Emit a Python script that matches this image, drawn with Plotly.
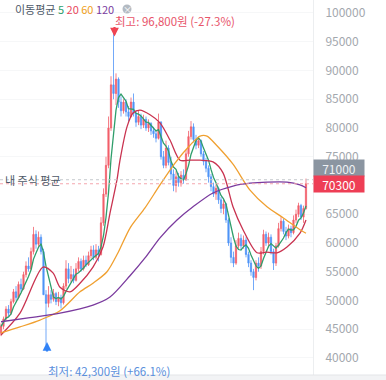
import plotly.graph_objects as go
import pandas as pd

# ---- candle data (won) ----
opens = [44300,45500,46800,48500,47800,49800,51500,50500,52800,52000,
         54500,56000,55500,58500,61500,59800,61000,58500,51000,49500,
         51000,50200,51200,49800,50500,49600,52500,55500,53800,54500,
         53500,55500,56800,55500,57000,56200,57800,58800,57500,58800,
         58000,63500,68500,73500,80000,87500,86000,88500,84500,83000,
         84500,82800,82000,84500,82500,81000,82000,80500,81500,80000,
         80800,79500,79000,78200,81000,75000,73500,76500,74000,72000,
         70000,71500,70500,71800,71000,75500,78500,80200,78000,77000,
         77800,75500,74200,73000,71500,69800,68500,69500,67500,66000,
         66800,64000,60000,57500,56500,59500,60800,59500,60500,58000,
         56500,55000,54000,56500,56000,58500,61500,60000,61000,58500,
         56500,59500,62500,63800,62000,61200,62500,61800,64000,65000,
         66500,64500,66000]
highs = [46000,47200,49000,49200,50300,52000,52500,53300,53800,55000,
         56800,57500,59200,62800,62200,62000,61500,59000,51800,52500,
         51800,52000,51500,51500,51000,53000,57000,56500,56000,55500,
         56500,57500,57300,57800,57800,58500,59500,59600,59800,59500,
         64500,69500,75000,82000,89000,96800,89500,88800,85500,85000,
         85000,83800,85300,86000,83000,83000,82500,82300,82000,81500,
         81000,80200,79500,82500,81200,76000,77800,77000,75000,72800,
         72500,72200,72500,72800,76200,79500,81200,80800,78800,78500,
         78000,76000,74800,73500,72000,70500,70200,69800,68000,67500,
         67000,64300,61000,58500,60500,61800,61500,61300,61000,58500,
         57000,55500,57000,57500,59300,62300,62000,61800,61500,59000,
         60000,63500,64500,64200,62800,63200,63000,64800,65800,67000,
         66800,66500,71200]
lows = [43800,45000,46500,47300,47500,49500,50000,50200,51500,51800,
        54000,55000,55300,58000,59000,59200,58000,51000,42300,48800,
        49500,49800,49200,49000,48600,49300,52000,53000,53200,53000,
        53300,55000,55000,55200,55800,56000,57300,57000,57200,56800,
        57800,63000,68000,73000,79500,85000,84000,83500,82000,82500,
        82000,81200,81800,82000,80200,80500,79800,80000,79500,79300,
        78800,78300,77500,78000,74500,73000,73000,73500,71000,69000,
        68800,69800,69800,70300,70800,75000,78000,77500,76300,76500,
        75000,73500,72300,70500,69000,68000,67500,66800,65200,65000,
        63500,59500,56500,55800,56200,59000,58800,59000,57500,55800,
        54300,51800,53500,55000,55500,58000,59500,59200,58000,55300,
        56000,59200,62000,61500,60500,60800,61000,61500,63500,64500,
        64000,63500,65800]
closes = [45500,46800,48500,47800,49800,51500,50500,52800,52000,54500,
          56000,55500,58500,61500,59800,61000,58500,51000,49500,51000,
          50200,51200,49800,50500,49600,52500,55500,53800,54500,53500,
          55500,56800,55500,57000,56200,57800,58800,57500,58800,58000,
          63500,68500,73500,80000,87500,86000,88500,84500,83000,84500,
          82800,82000,84500,82500,81000,82000,80500,81500,80000,80800,
          79500,79000,78200,81000,75000,73500,76500,74000,72000,70000,
          71500,70500,71800,71000,75500,78500,80200,78000,77000,77800,
          75500,74200,73000,71500,69800,68500,69500,67500,66000,66800,
          64000,60000,57500,56500,59500,60800,59500,60500,58000,56500,
          55000,54000,56500,56000,58500,61500,60000,61000,58500,56500,
          59500,62500,63800,62000,61200,62500,61800,64000,65000,66500,
          64500,66000,70300]

# ---- moving averages (index, won) ----
ma20_i = [0, 7.6, 16.8, 20.8, 23.6, 27.6, 31.6, 36.8, 40.8, 43.6, 46.4, 47.6, 50.4, 52.8,
          55.6, 59.6, 63.6, 67.6, 71.6, 75.6, 79.6, 84.8, 88.8, 92.8, 96.8, 102.4, 106.4,
          110.4, 114.4, 119.6, 122]
ma20_v = [44000, 47800, 55800, 54800, 52300, 51500, 53000, 55800, 59300, 65200, 71000, 74400,
          80200, 82600, 83100, 82300, 80900, 77900, 74400, 74400, 74400, 74100, 72200, 66300,
          62300, 58300, 58400, 58300, 59300, 61700, 64000]
ma60_i = [0, 7.6, 15.6, 23.6, 31.6, 36.8, 42.4, 46.8, 51.6, 57.6, 63.6, 69.6, 75.6, 79.6,
          82.4, 86.4, 92.8, 99.6, 106.4, 112.8, 119.6, 122]
ma60_v = [44350, 45400, 46600, 48200, 51500, 53000, 55000, 58300, 62600, 66100, 70100, 73900,
          77000, 78600, 78600, 76900, 73700, 69200, 66300, 64400, 62300, 61700]
ma120_i = [0, 11.6, 23.6, 36.8, 43.6, 51.6, 57.6, 63.6, 70.4, 76.8, 84.8, 92.8, 99.6, 106.4,
           114.4, 119.6, 122]
ma120_v = [46300, 47000, 47800, 49200, 50600, 54300, 57400, 60900, 64000, 66300, 68700, 69900,
           70400, 70600, 70600, 70100, 69600]

my_avg = 71000
last_price = 70300
high_idx, high_val = 45, 96800
low_idx, low_val = 18, 42300
y_ticks = [40000, 45000, 50000, 55000, 60000, 65000, 75000, 80000, 85000, 90000, 95000, 100000]

RED = "#f04452"
BLUE = "#3182f6"
FONT = "Noto Sans CJK KR"

idx = list(range(len(closes)))
ma5 = pd.Series(closes).rolling(5, min_periods=1).mean().tolist()

fig = go.Figure()
fig.add_trace(go.Candlestick(
    x=idx, open=opens, high=highs, low=lows, close=closes,
    increasing=dict(line=dict(color=RED, width=0.8), fillcolor=RED),
    decreasing=dict(line=dict(color=BLUE, width=0.8), fillcolor=BLUE),
    whiskerwidth=0, opacity=0.85, showlegend=False, hoverinfo="skip"))

for xs, ys, col, shape in [(idx, ma5, "#2f9e6b", "linear"),
                           (ma20_i, ma20_v, "#c93350", "spline"),
                           (ma60_i, ma60_v, "#f0a030", "spline"),
                           (ma120_i, ma120_v, "#7a3a9e", "spline")]:
    fig.add_trace(go.Scatter(x=xs, y=ys, mode="lines",
                             line=dict(color=col, width=1.3, shape=shape, smoothing=0.8),
                             showlegend=False, hoverinfo="skip"))

W, H = 313, 375
shapes = [
    dict(type="line", xref="paper", x0=0, x1=1, yref="y", y0=my_avg, y1=my_avg,
         line=dict(color="#c4c8cd", width=1, dash="dot")),
    dict(type="line", xref="paper", x0=0, x1=1, yref="y", y0=last_price, y1=last_price,
         line=dict(color="#f4a6ae", width=1, dash="dot")),
    dict(type="rect", xref="paper", yref="paper", x0=-0.01, x1=386 / W, y0=-6 / H, y1=0,
         fillcolor="#f2f3f5", line=dict(width=0), layer="below"),
    dict(type="line", xref="paper", yref="paper", x0=0, x1=386 / W, y0=0, y1=0,
         line=dict(color="#e3e5e8", width=1)),
    dict(type="circle", xref="paper", yref="paper", x0=122.5 / W, x1=131.5 / W,
         y0=1 - 13.5 / H, y1=1 - 4.5 / H, fillcolor="#b3bac2", line=dict(width=0)),
]

legend_txt = ("이동평균 <span style='color:#2f9e6b'>5</span> "
              "<span style='color:#e8455a'>20</span> "
              "<span style='color:#f0a020'>60</span> "
              "<span style='color:#7a3a9e'>120</span>")

annotations = [
    dict(xref="paper", yref="paper", x=13 / W, y=1 - 9 / H, xanchor="left", yanchor="middle",
         text=legend_txt, showarrow=False, font=dict(family=FONT, size=11, color="#4e5968")),
    dict(xref="paper", yref="paper", x=127 / W, y=1 - 9 / H, xanchor="center", yanchor="middle",
         text="×", showarrow=False, font=dict(family=FONT, size=9, color="white")),
    dict(xref="x", yref="y", x=high_idx, y=98600, xanchor="left", yanchor="middle",
         xshift=-1, text=f"최고: {high_val:,}원 (-27.3%)", showarrow=False,
         font=dict(family=FONT, size=11.5, color="#e8546a")),
    dict(xref="x", yref="y", x=high_idx + 0.4, y=95900, ax=0, ay=-11, text="", showarrow=True,
         arrowhead=2, arrowsize=0.8, arrowwidth=2.2, arrowcolor=RED),
    dict(xref="x", yref="y", x=low_idx + 0.4, y=42800, ax=0, ay=11, text="", showarrow=True,
         arrowhead=2, arrowsize=0.8, arrowwidth=2.2, arrowcolor=BLUE),
    dict(xref="x", yref="paper", x=low_idx, y=1 - 371 / H, xanchor="left", yanchor="middle",
         text=f"최저: {low_val:,}원 (+66.1%)", showarrow=False,
         font=dict(family=FONT, size=11.5, color="#5a8fdc")),
    dict(xref="paper", yref="y", x=3 / W, y=my_avg, xanchor="left", yanchor="middle",
         text="내 주식 평균", showarrow=False, font=dict(family=FONT, size=11, color="#4e5968")),
    dict(xref="paper", yref="y", x=1, y=my_avg, yshift=12, xanchor="left", yanchor="middle",
         text=str(my_avg), showarrow=False, bgcolor="#8b95a1", width=48, height=14, borderpad=1,
         font=dict(family=FONT, size=12, color="#eef1f4")),
    dict(xref="paper", yref="y", x=1, y=last_price, xanchor="left", yanchor="middle",
         text=str(last_price), showarrow=False, bgcolor="#ee3e55", width=48, height=14, borderpad=1,
         font=dict(family=FONT, size=12, color="#ffffff")),
]

fig.update_layout(
    width=386, height=380, margin=dict(l=0, r=386 - W, t=0, b=380 - H),
    paper_bgcolor="white", plot_bgcolor="white",
    xaxis=dict(range=[-0.4, 124.8], visible=False, rangeslider=dict(visible=False),
               fixedrange=True),
    yaxis=dict(side="right", range=[37040, 102260], tickvals=y_ticks,
               ticktext=[str(v) for v in y_ticks], showgrid=True, gridcolor="#f6f7f8",
               zeroline=False, showline=True, linecolor="#eceef0", linewidth=1,
               ticks="", ticklabelstandoff=9,
               tickfont=dict(family=FONT, size=12, color="#a3a8ae"), fixedrange=True),
    shapes=shapes, annotations=annotations, showlegend=False,
)

fig.write_html("out.html", config={"displayModeBar": False},
               post_script="document.body.style.margin='0';")
